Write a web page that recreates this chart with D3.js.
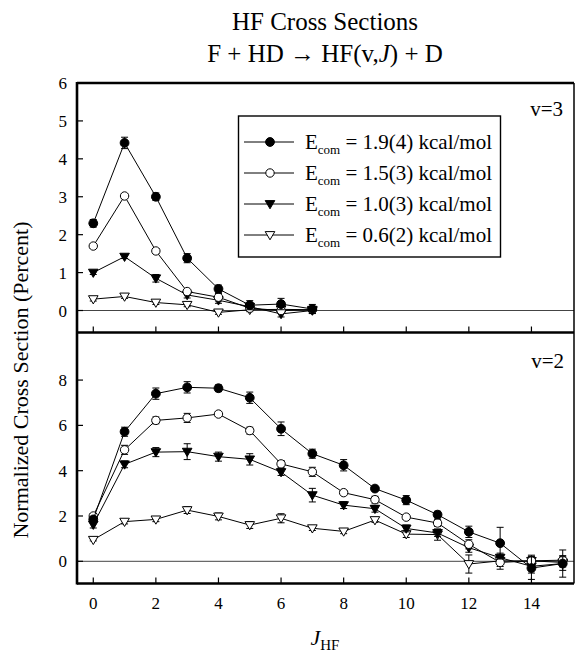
<!DOCTYPE html>
<html>
<head>
<meta charset="utf-8">
<script src="https://cdn.jsdelivr.net/npm/d3@7"></script>
<style>
  html, body { margin: 0; padding: 0; background: #fff; }
  svg { display: block; }
  svg text { font-family: "Liberation Serif", "Times New Roman", "DejaVu Serif", serif; }
</style>
</head>
<body>
<svg id="chart" width="577" height="654"></svg>
<script>
// ---- data ----
const seriesLabels = ['1.9(4)', '1.5(3)', '1.0(3)', '0.6(2)'];
const seriesMarkers = ['filledCircle', 'openCircle', 'filledTri', 'openTri'];

// v=3 panel, J = 0..7
const jTop = [0, 1, 2, 3, 4, 5, 6, 7];
const v3E19 = [2.30, 4.42, 3.00, 1.38, 0.57, 0.14, 0.17, 0.04];
const v3E15 = [1.70, 3.02, 1.57, 0.50, 0.35, 0.06, 0.00, 0.02];
const v3E10 = [1.00, 1.42, 0.85, 0.41, 0.27, 0.10, -0.09, 0.00];
const v3E06 = [0.30, 0.37, 0.21, 0.15, -0.05, 0.02, 0.03, 0.02];
const v3Err19 = [0.10, 0.15, 0.10, 0.12, 0.10, 0.12, 0.15, 0.12];
const v3Err15 = [0.05, 0.05, 0.06, 0.05, 0.10, 0.05, 0.06, 0.05];
const v3Err10 = [0.05, 0.05, 0.10, 0.08, 0.08, 0.08, 0.08, 0.08];
const v3Err06 = [0.05, 0.05, 0.05, 0.05, 0.05, 0.05, 0.05, 0.05];

// v=2 panel, J = 0..15
const jBot = [0, 1, 2, 3, 4, 5, 6, 7, 8, 9, 10, 11, 12, 13, 14, 15];
const v2E19 = [1.85, 5.72, 7.40, 7.68, 7.64, 7.22, 5.85, 4.75, 4.24, 3.21, 2.70, 2.06, 1.30, 0.80, -0.30, -0.10];
const v2E15 = [2.00, 4.92, 6.22, 6.33, 6.50, 5.77, 4.30, 3.95, 3.03, 2.72, 1.95, 1.69, 0.75, -0.05, 0.02, 0.05];
const v2E10 = [1.62, 4.28, 4.82, 4.84, 4.62, 4.50, 3.94, 2.92, 2.48, 2.32, 1.45, 1.25, 0.60, 0.16, -0.22, -0.10];
const v2E06 = [0.95, 1.75, 1.85, 2.26, 1.98, 1.60, 1.90, 1.46, 1.32, 1.82, 1.20, 1.18, -0.12, 0.02, 0.02, -0.05];
const v2Err19 = [0.10, 0.20, 0.25, 0.25, 0.15, 0.25, 0.30, 0.20, 0.25, 0.10, 0.20, 0.15, 0.25, 0.70, 0.50, 0.30];
const v2Err15 = [0.10, 0.20, 0.15, 0.20, 0.10, 0.15, 0.15, 0.20, 0.10, 0.15, 0.10, 0.15, 0.20, 0.30, 0.25, 0.20];
const v2Err10 = [0.15, 0.15, 0.20, 0.35, 0.20, 0.25, 0.15, 0.30, 0.15, 0.15, 0.15, 0.15, 0.20, 0.20, 0.30, 0.60];
const v2Err06 = [0.05, 0.10, 0.10, 0.15, 0.15, 0.15, 0.20, 0.10, 0.10, 0.10, 0.15, 0.25, 0.40, 0.25, 0.20, 0.20];

const xTicks = [0, 2, 4, 6, 8, 10, 12, 14];
const yTicksTop = [0, 1, 2, 3, 4, 5, 6];
const yTicksBot = [0, 2, 4, 6, 8];

// ---- layout ----
const svg = d3.select('#chart');
const left = 77, right = 574;
const topY0 = 83, midY = 332.5, botY1 = 583.5;

const x = d3.scaleLinear().domain([-0.52, 15.36]).range([left, right]);
const yTop = d3.scaleLinear().domain([-0.58, 6]).range([midY, topY0]);
const yBot = d3.scaleLinear().domain([-0.98, 10.1]).range([botY1, midY]);

const trianglePath = 'M-4.8,-3.4 L4.8,-3.4 L0,4.8 Z';

function drawMarker(g, kind, cx, cy) {
	if (kind === 'filledCircle' || kind === 'openCircle') {
		g.append('circle')
			.attr('cx', cx).attr('cy', cy).attr('r', kind === 'filledCircle' ? 4.4 : 4.2)
			.attr('fill', kind === 'filledCircle' ? '#000' : '#fff')
			.attr('stroke', '#000').attr('stroke-width', 1);
	} else {
		g.append('path')
			.attr('d', trianglePath)
			.attr('transform', `translate(${cx},${cy})`)
			.attr('fill', kind === 'filledTri' ? '#000' : '#fff')
			.attr('stroke', '#000').attr('stroke-width', 1);
	}
}

function drawPanel(yScale, js, seriesVals, seriesErrs) {
	const g = svg.append('g');
	// zero line
	g.append('line')
		.attr('x1', left).attr('x2', right)
		.attr('y1', yScale(0)).attr('y2', yScale(0))
		.attr('stroke', '#444').attr('stroke-width', 1);

	const line = d3.line().x((d) => x(d[0])).y((d) => yScale(d[1]));

	// draw series from back (lowest) to front
	for (let s = seriesVals.length - 1; s >= 0; s--) {
		const pts = js.map((j, i) => [j, seriesVals[s][i], seriesErrs[s][i]]);
		g.append('path')
			.datum(pts)
			.attr('d', line)
			.attr('fill', 'none')
			.attr('stroke', '#000')
			.attr('stroke-width', 1);
		pts.forEach((p) => {
			const cx = x(p[0]);
			const yHi = yScale(p[1] + p[2]), yLo = yScale(p[1] - p[2]);
			g.append('line').attr('x1', cx).attr('x2', cx).attr('y1', yHi).attr('y2', yLo)
				.attr('stroke', '#000').attr('stroke-width', 1);
			[yHi, yLo].forEach((yy) => {
				g.append('line').attr('x1', cx - 3.5).attr('x2', cx + 3.5).attr('y1', yy).attr('y2', yy)
					.attr('stroke', '#000').attr('stroke-width', 1);
			});
		});
		pts.forEach((p) => drawMarker(g, seriesMarkers[s], x(p[0]), yScale(p[1])));
	}
}

drawPanel(yTop, jTop, [v3E19, v3E15, v3E10, v3E06], [v3Err19, v3Err15, v3Err10, v3Err06]);
drawPanel(yBot, jBot, [v2E19, v2E15, v2E10, v2E06], [v2Err19, v2Err15, v2Err10, v2Err06]);

// ---- frame ----
const frame = svg.append('g').attr('stroke', '#000').attr('fill', 'none');
frame.append('line').attr('x1', left).attr('x2', left).attr('y1', topY0 - 1).attr('y2', botY1 + 1).attr('stroke-width', 2.6);
frame.append('line').attr('x1', right).attr('x2', right).attr('y1', topY0).attr('y2', botY1).attr('stroke-width', 1.5);
[topY0, midY, botY1].forEach((yy) => {
	frame.append('line').attr('x1', left).attr('x2', right).attr('y1', yy).attr('y2', yy).attr('stroke-width', 2.6);
});

// ---- ticks ----
const ticks = svg.append('g').attr('stroke', '#000').attr('stroke-width', 1.2);
xTicks.forEach((t) => {
	[midY, botY1].forEach((yy) => {
		ticks.append('line').attr('x1', x(t)).attr('x2', x(t)).attr('y1', yy).attr('y2', yy - 6);
	});
});
yTicksTop.forEach((t) => {
	ticks.append('line').attr('x1', left).attr('x2', left + 6).attr('y1', yTop(t)).attr('y2', yTop(t));
});
yTicksBot.forEach((t) => {
	ticks.append('line').attr('x1', left).attr('x2', left + 6).attr('y1', yBot(t)).attr('y2', yBot(t));
});

const labels = svg.append('g').attr('font-size', 17).attr('fill', '#000');
xTicks.forEach((t) => {
	labels.append('text').attr('x', x(t)).attr('y', 609).attr('text-anchor', 'middle').text(t);
});
yTicksTop.forEach((t) => {
	labels.append('text').attr('x', 67).attr('y', yTop(t) + 6).attr('text-anchor', 'end').text(t);
});
yTicksBot.forEach((t) => {
	labels.append('text').attr('x', 67).attr('y', yBot(t) + 6).attr('text-anchor', 'end').text(t);
});

// ---- panel labels ----
svg.append('text').attr('x', 563).attr('y', 116).attr('text-anchor', 'end').attr('font-size', 21).text('v=3');
svg.append('text').attr('x', 564).attr('y', 368).attr('text-anchor', 'end').attr('font-size', 21).text('v=2');

// ---- legend ----
const lg = svg.append('g');
lg.append('rect').attr('x', 238.5).attr('y', 116).attr('width', 262).attr('height', 141)
	.attr('fill', '#fff').attr('stroke', '#000').attr('stroke-width', 1.4);
seriesLabels.forEach((lab, i) => {
	const yy = 142 + i * 31;
	lg.append('line').attr('x1', 244).attr('x2', 294).attr('y1', yy).attr('y2', yy)
		.attr('stroke', '#000').attr('stroke-width', 1);
	drawMarker(lg, seriesMarkers[i], 270, yy);
	const t = lg.append('text').attr('x', 305).attr('y', yy + 7).attr('font-size', 21);
	t.append('tspan').text('E');
	t.append('tspan').attr('font-size', 13).attr('dy', 5).text('com');
	t.append('tspan').attr('dy', -5).text(` = ${lab} kcal/mol`);
});

// ---- titles ----
svg.append('text').attr('x', 325).attr('y', 30).attr('text-anchor', 'middle').attr('font-size', 25)
	.text('HF Cross Sections');
const t2 = svg.append('text').attr('x', 325).attr('y', 62).attr('text-anchor', 'middle').attr('font-size', 25);
t2.append('tspan').text('F + HD \u2192 HF(v,');
t2.append('tspan').attr('font-style', 'italic').text('J');
t2.append('tspan').text(') + D');

const xl = svg.append('text').attr('x', 325).attr('y', 645).attr('text-anchor', 'middle').attr('font-size', 22);
xl.append('tspan').attr('font-style', 'italic').text('J');
xl.append('tspan').attr('font-size', 15).attr('dy', 5).text('HF');

svg.append('text')
	.attr('transform', 'translate(28,380) rotate(-90)')
	.attr('text-anchor', 'middle').attr('font-size', 22)
	.text('Normalized Cross Section (Percent)');
</script>
</body>
</html>
